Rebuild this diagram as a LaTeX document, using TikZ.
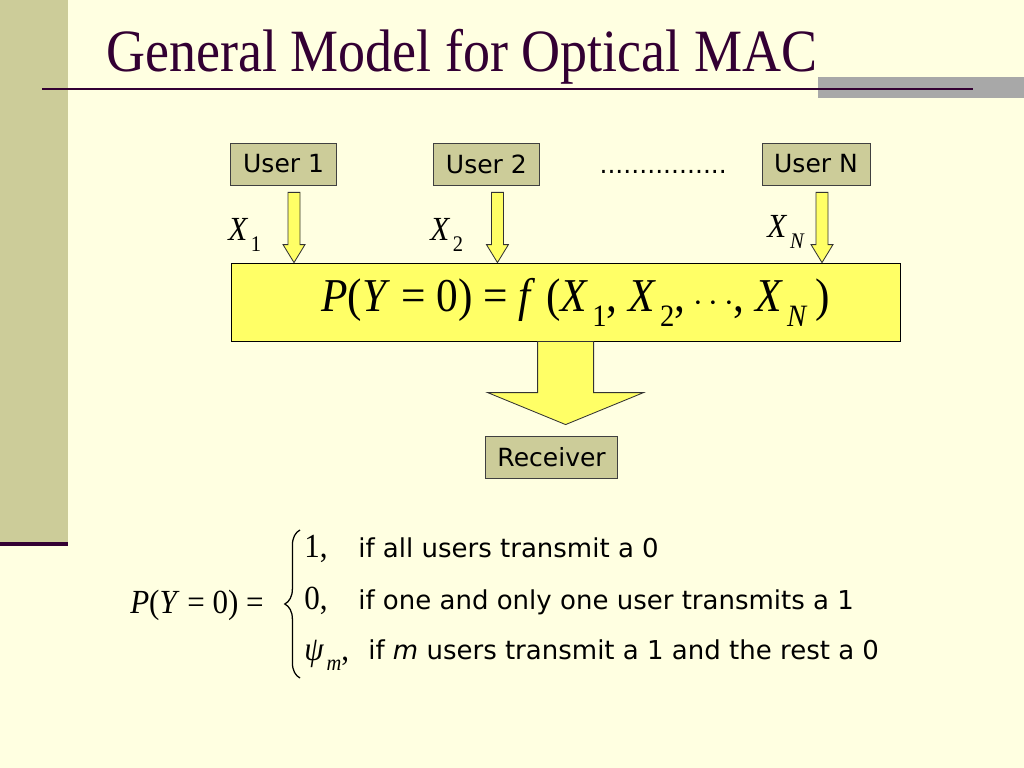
\documentclass[tikz,border=0pt]{standalone}
\usepackage{fontspec}
\usepackage{graphicx}
\setmainfont{Liberation Serif}
\newfontfamily\verd{DejaVu Sans}
\newfontfamily\titlefont[FakeStretch=0.9]{Liberation Serif}
\newfontfamily\eqfont[FakeStretch=0.92]{Liberation Serif}
\usetikzlibrary{positioning,calc,decorations.pathreplacing}
\definecolor{slidebg}{HTML}{FFFFE1}
\definecolor{bandolive}{HTML}{CCCC99}
\definecolor{titleplum}{HTML}{330033}
\definecolor{bargray}{HTML}{A8A8A8}
\definecolor{hiyellow}{HTML}{FFFF66}

% small lowered index for the serif formulas
\newcommand{\subs}[1]{\kern0.08em\raisebox{-0.32em}{\scalebox{0.66}{#1}}}
% yellow block arrow: start, end, half shaft, half head, head length
\newcommand{\blockarr}[5]{%
    \draw[blockarr] let \p1=#1, \p2=#2 in
        (\x1-#3,\y1) -- (\x1+#3,\y1) -- (\x1+#3,\y2+#5) -- (\x1+#4,\y2+#5)
        -- (\x1,\y2) -- (\x1-#4,\y2+#5) -- (\x1-#3,\y2+#5) -- cycle;}

\begin{document}
\begin{tikzpicture}[
    every node/.style={inner sep=0pt},
    userbox/.style={
        draw=black!75, fill=bandolive, line width=0.6pt,
        minimum width=2.65cm, minimum height=1.05cm,
        font=\verd\fontsize{17.8}{20}\selectfont
    },
    mainbox/.style={
        draw=black, fill=hiyellow, line width=0.6pt,
        minimum width=16.725cm, minimum height=1.95cm,
        font=\eqfont\fontsize{33.5}{36}\selectfont
    },
    blockarr/.style={draw=black!80, fill=hiyellow, line width=0.6pt, line join=miter},
    xlabel/.style={anchor=base west, font=\eqfont\fontsize{24}{26}\selectfont},
    caseval/.style={anchor=base west, font=\eqfont\fontsize{24}{26}\selectfont},
    cond/.style={anchor=base west, font=\verd\fontsize{18.5}{22}\selectfont},
]

% === Slide background ===
\useasboundingbox (0,0) rectangle (25.6,-19.2);
\fill[slidebg] (0,0) rectangle (25.6,-19.2);
\fill[bandolive] (0,0) rectangle (1.7,-13.6);
\fill[titleplum] (0,-13.55) rectangle (1.7,-13.65);
\fill[bargray] (20.45,-1.925) rectangle (25.6,-2.45);
\draw[titleplum, line width=2pt] (1.05,-2.225) -- (24.33,-2.225);

\node[anchor=base west, text=titleplum, font=\titlefont\fontsize{42.7}{48}\selectfont]
    (title) at (2.65,-1.8) {General Model for Optical MAC};

% === Users ===
\node[userbox] (u1) at (7.09,-4.1) {User 1};
\node[userbox, right=2.4cm of u1] (u2) {User 2};
\node[anchor=base, font=\verd\fontsize{17.8}{20}\selectfont] (dots) at (16.58,-4.35) {................};
\node[userbox, minimum width=2.7cm] (uN) at (20.4,-4.1) {User N};

% === Combining box ===
\node[mainbox] (main) at (14.14,-7.55)
    {\hspace*{0.5cm}\textit{P}(\textit{Y} = 0) = \textit{f} (\textit{X}\subs{1}, \textit{X}\subs{2},\,$\cdots$, \textit{X}\subs{\textit{N}}\,)};

\blockarr{($(u1.south)+(0.26,-0.175)$)}{(main.north)}{0.15cm}{0.275cm}{0.45cm}
\blockarr{($(u2.south)+(0.275,-0.175)$)}{(main.north)}{0.15cm}{0.275cm}{0.45cm}
\blockarr{($(uN.south)+(0.15,-0.175)$)}{(main.north)}{0.15cm}{0.275cm}{0.45cm}

\node[xlabel] (x1) at (5.7,-6.02) {\textit{X}\subs{1}};
\node[xlabel] (x2) at (10.75,-6.02) {\textit{X}\subs{2}};
\node[xlabel] (xN) at (19.18,-5.95) {\textit{X}\subs{\textit{N}}};

% === Receiver ===
\node[userbox, minimum width=3.3cm] (recv) at (13.79,-11.425) {Receiver};
\blockarr{(main.south)}{($(recv.north)+(0,0.275)$)}{0.7cm}{1.95cm}{0.8cm}

% === Cases ===
\node[caseval] (lhs) at (3.25,-15.33) {\textit{P}(\textit{Y} = 0) =};
\coordinate (bracetop) at (7.5,-13.25);
\coordinate (bracebot) at (7.5,-16.95);
\draw[line width=0.9pt, decorate, decoration={brace, amplitude=0.38cm, aspect=0.5}]
    (bracebot) -- (bracetop);

\node[caseval] (c1) at (7.6,-13.93) {1,};
\node[cond] (t1) at (8.95,-13.93) {if all users transmit a 0};
\node[caseval] (c2) at (7.6,-15.23) {0,};
\node[cond] (t2) at (8.95,-15.23) {if one and only one user transmits a 1};
\node[caseval] (c3) at (7.6,-16.5) {\textit{ψ}\subs{\textit{m}},};
\node[cond] (t3) at (9.2,-16.48) {if \textit{m} users transmit a 1 and the rest a 0};

\end{tikzpicture}
\end{document}
